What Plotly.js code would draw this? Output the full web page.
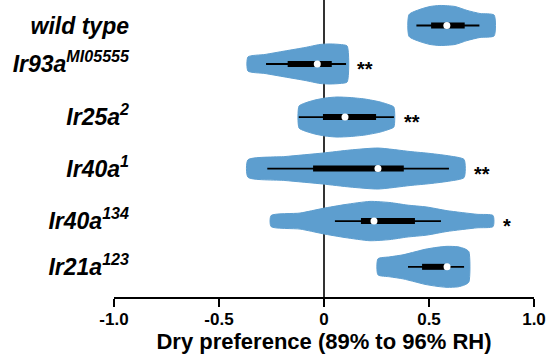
<!DOCTYPE html>
<html><head><meta charset="utf-8">
<script src="https://cdn.plot.ly/plotly-3.0.1.min.js"></script>
<style>html,body{margin:0;padding:0;background:#fff}</style>
</head><body><div id="chart" style="width:550px;height:364px"></div>
<script>
// Genotype labels (top to bottom) and their vertical slots
const labels = ['wild type','Ir93a<sup>MI05555</sup>','Ir25a<sup>2</sup>','Ir40a<sup>1</sup>','Ir40a<sup>134</sup>','Ir21a<sup>123</sup>'];
const positions = [5.22, 4.48, 3.46, 2.47, 1.46, 0.58];
const stars = ['', '**', '**', '**', '*', ''];

// Box-plot summaries (dry preference index)
const whiskerLow  = [0.44, -0.276, -0.12, -0.27, 0.052, 0.40];
const q1          = [0.51, -0.173, -0.005, -0.052, 0.176, 0.467];
const median      = [0.585, -0.032, 0.10, 0.257, 0.238, 0.586];
const q3          = [0.67, 0.037, 0.248, 0.38, 0.433, 0.575];
const whiskerHigh = [0.74, 0.105, 0.333, 0.595, 0.557, 0.667];

// Violin density profiles: preference values and half-widths (density)
const wtX  = [0.405, 0.457, 0.505, 0.552, 0.624, 0.681, 0.743, 0.81];
const wtW  = [0.21, 0.31, 0.365, 0.385, 0.365, 0.29, 0.23, 0.20];
const r93X = [-0.362, -0.281, -0.186, -0.09, -0.019, 0.029, 0.076, 0.11];
const r93W = [0.135, 0.183, 0.25, 0.317, 0.375, 0.385, 0.375, 0.346];
const r25X = [-0.119, -0.09, -0.043, 0.005, 0.062, 0.124, 0.195, 0.267, 0.314, 0.333];
const r25W = [0.21, 0.27, 0.327, 0.365, 0.385, 0.375, 0.346, 0.29, 0.23, 0.19];
const r40aX = [-0.362, -0.186, -0.005, 0.124, 0.257, 0.41, 0.505, 0.60, 0.667];
const r40aW = [0.167, 0.23, 0.298, 0.356, 0.394, 0.327, 0.29, 0.24, 0.173];
const r40bX = [-0.252, -0.114, -0.005, 0.10, 0.219, 0.314, 0.395, 0.49, 0.586, 0.729, 0.805];
const r40bW = [0.106, 0.154, 0.244, 0.317, 0.378, 0.356, 0.308, 0.27, 0.20, 0.13, 0.106];
const r21X = [0.257, 0.314, 0.376, 0.433, 0.481, 0.538, 0.586, 0.638, 0.671, 0.69];
const r21W = [0.154, 0.192, 0.231, 0.288, 0.337, 0.375, 0.394, 0.385, 0.346, 0.29];

const profilesX = [wtX, r93X, r25X, r40aX, r40bX, r21X];
const profilesW = [wtW, r93W, r25W, r40aW, r40bW, r21W];

const violinColor = '#5d9ecf';
const traces = [];
profilesX.forEach((xs, i) => {
  const p = positions[i], ws = profilesW[i];
  const x = xs.concat(xs.slice().reverse());
  const y = ws.map(w => p + w).concat(ws.slice().reverse().map(w => p - w));
  x.push(x[0]); y.push(y[0]);
  traces.push({type:'scatter', mode:'lines', x, y, fill:'toself', fillcolor:violinColor,
    line:{color:violinColor, width:1, shape:'spline', smoothing:0.6}, hoverinfo:'skip', showlegend:false});
});
positions.forEach((p, i) => {
  traces.push({type:'scatter', mode:'lines', x:[whiskerLow[i], whiskerHigh[i]], y:[p,p],
    line:{color:'#000', width:1.8}, hoverinfo:'skip', showlegend:false});
  traces.push({type:'scatter', mode:'lines', x:[q1[i], q3[i]], y:[p,p],
    line:{color:'#000', width:6}, hoverinfo:'skip', showlegend:false});
});
traces.push({type:'scatter', mode:'markers', x:median, y:positions,
  marker:{color:'#fff', size:7, line:{width:0}}, hoverinfo:'skip', showlegend:false});

const annotations = stars.map((s, i) => s ? {
  x: Math.max(...profilesX[i]), y: positions[i], xref:'x', yref:'y', text:'<b>'+s+'</b>',
  showarrow:false, xanchor:'left', yanchor:'middle', xshift:8, yshift:-5,
  font:{family:'Liberation Sans, Arial, sans-serif', size:20, color:'#000'}
} : null).filter(a => a);

const layout = {
  width:550, height:364,
  margin:{l:114, r:16, t:0, b:67, pad:0},
  paper_bgcolor:'#fff', plot_bgcolor:'#fff',
  xaxis:{range:[-1,1], tickvals:[-1,-0.5,0,0.5,1], ticktext:['-1.0','-0.5','0','0.5','1.0'],
    showgrid:false, zeroline:true, zerolinecolor:'#333', zerolinewidth:2,
    showline:true, linecolor:'#000', linewidth:1.5, ticks:'outside', ticklen:8, tickwidth:1.5, tickcolor:'#000',
    ticklabelstandoff:-2,
    tickfont:{family:'Liberation Sans, Arial, sans-serif', size:17, color:'#000', weight:'bold'},
    title:{text:'<b>Dry preference (89% to 96% RH)</b>', standoff:5,
      font:{family:'Liberation Sans, Arial, sans-serif', size:22, color:'#000'}}},
  yaxis:{range:[0, 5.71], tickvals:positions, ticktext:labels, showgrid:false, zeroline:false, showline:false,
    ticks:'', ticklabelstandoff:-16,
    tickfont:{family:'Liberation Sans, Arial, sans-serif', size:23, color:'#000', weight:'bold', style:'italic'}},
  annotations,
  showlegend:false
};
Plotly.newPlot('chart', traces, layout, {displayModeBar:false, staticPlot:true});
</script></body></html>
